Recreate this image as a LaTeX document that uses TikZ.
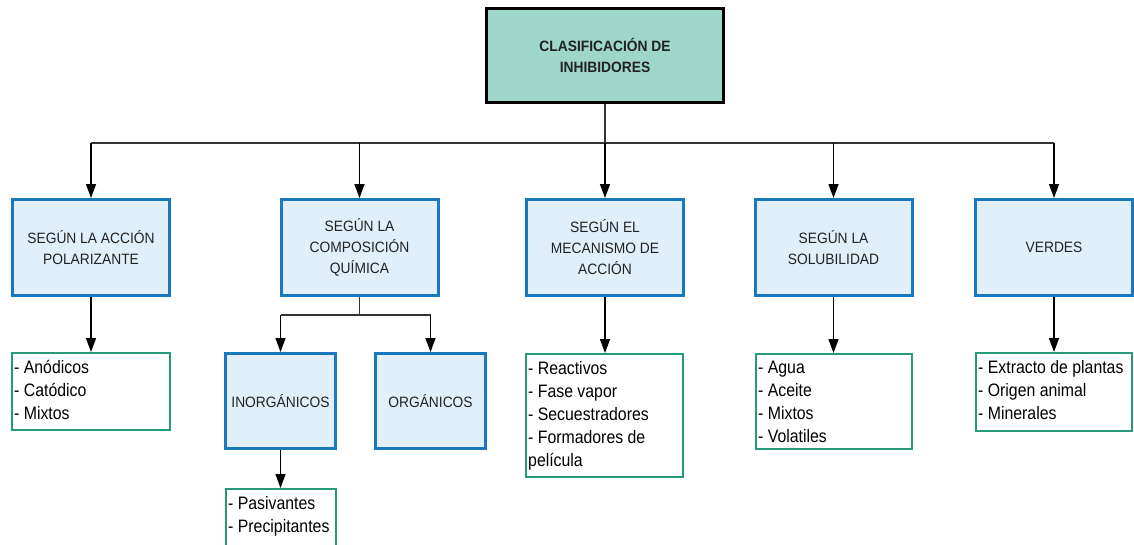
\documentclass[tikz,border=0pt]{standalone}
\usepackage{fontspec}
\setmainfont{Liberation Sans}
\newfontfamily\listfont[FakeStretch=0.88]{Liberation Sans}
\newfontfamily\boxfont[FakeStretch=0.92]{Liberation Sans}
\usetikzlibrary{arrows.meta,calc}
\definecolor{topfill}{HTML}{9ED7CA}
\definecolor{midfill}{HTML}{E0EFFA}
\definecolor{midline}{HTML}{1A78BE}
\definecolor{listline}{HTML}{25997C}
\definecolor{txt}{HTML}{222222}
\definecolor{bus}{HTML}{333333}
\tikzset{
  topbox/.style={draw=black, line width=3pt, fill=topfill, minimum width=237pt, minimum height=94pt, inner sep=0pt, align=center, font=\boxfont\bfseries\fontsize{15}{21}\selectfont, text=txt},
  midbox/.style={draw=midline, line width=3pt, fill=midfill, minimum width=157pt, minimum height=96pt, inner sep=0pt, align=center, font=\boxfont\fontsize{15}{21}\selectfont, text=txt},
  subbox/.style={midbox, minimum width=110pt, minimum height=95pt},
  listbox/.style={draw=listline, line width=2pt, fill=white, inner sep=0pt},
  listtext/.style={anchor=north west, inner sep=0pt, align=left, font=\listfont\fontsize{18}{23}\selectfont, text=black},
  arr/.style={draw=black, line width=1.4pt, -{Triangle[length=14pt,width=10pt]}},
  conn/.style={draw=bus, line width=1.6pt}
}
\begin{document}
\begin{tikzpicture}[x=1pt,y=-1pt]
\useasboundingbox (0,0) rectangle (1134,544);
% top
\node[topbox] (top) at (605,55.5) {CLASIFICACIÓN DE\\INHIBIDORES};
% level 2
\node[midbox] (b1) at (91,247.5) {SEGÚN LA ACCIÓN\\POLARIZANTE};
\node[midbox] (b2) at (359.5,247.5) {SEGÚN LA\\COMPOSICIÓN\\QUÍMICA};
\node[midbox] (b3) at (605,247.5) {SEGÚN EL\\MECANISMO DE\\ACCIÓN};
\node[midbox] (b4) at (833.5,247.5) {SEGÚN LA\\SOLUBILIDAD};
\node[midbox] (b5) at (1054,247.5) {VERDES};
% sub boxes
\node[subbox] (inorg) at (280.5,401) {INORGÁNICOS};
\node[subbox] (org) at (430.5,401) {ORGÁNICOS};
% list boxes
\node[listbox, minimum width=158pt, minimum height=77pt] (l1) at (91,391.5) {};
\node[listbox, minimum width=157pt, minimum height=123pt] (l3) at (604.5,415.5) {};
\node[listbox, minimum width=156pt, minimum height=95pt] (l4) at (834,401.5) {};
\node[listbox, minimum width=156pt, minimum height=78pt] (l5) at (1054,392) {};
\node[listbox, minimum width=110pt, minimum height=62pt] (lp) at (281,520) {};
% list texts
\node[listtext] (t1) at ($(l1.north west)+(3,8)$) {- Anódicos\\- Catódico\\- Mixtos};
\node[listtext] (t3) at ($(l3.north west)+(3,8)$) {- Reactivos\\- Fase vapor\\- Secuestradores\\- Formadores de\\película};
\node[listtext] (t4) at ($(l4.north west)+(3,8)$) {- Agua\\- Aceite\\- Mixtos\\- Volatiles};
\node[listtext] (t5) at ($(l5.north west)+(3,8)$) {- Extracto de plantas\\- Origen animal\\- Minerales};
\node[listtext] (tp) at ($(lp.north west)+(3,8)$) {- Pasivantes\\- Precipitantes};
% bus
\coordinate (hub) at (605,143);
\coordinate (busL) at (91,143);
\coordinate (busR) at (1054,143);
\draw[conn] (top.south) -- (hub);
\draw[conn] (busL) -- (busR);
\foreach \b in {b1,b2,b3,b4,b5}{
  \draw[arr] (hub -| \b.north) -- (\b.north);
}
% composition branch
\coordinate (br) at (359.5,315);
\draw[conn] (b2.south) -- (br);
\draw[conn] (br -| inorg.north) -- (br -| org.north);
\draw[arr] (br -| inorg.north) -- (inorg.north);
\draw[arr] (br -| org.north) -- (org.north);
% lists
\draw[arr] (b1.south) -- (l1.north);
\draw[arr] (b3.south) -- (b3.south |- l3.north);
\draw[arr] (b4.south) -- (b4.south |- l4.north);
\draw[arr] (b5.south) -- (l5.north);
\draw[arr] (inorg.south) -- (inorg.south |- lp.north);
\end{tikzpicture}
\end{document}
